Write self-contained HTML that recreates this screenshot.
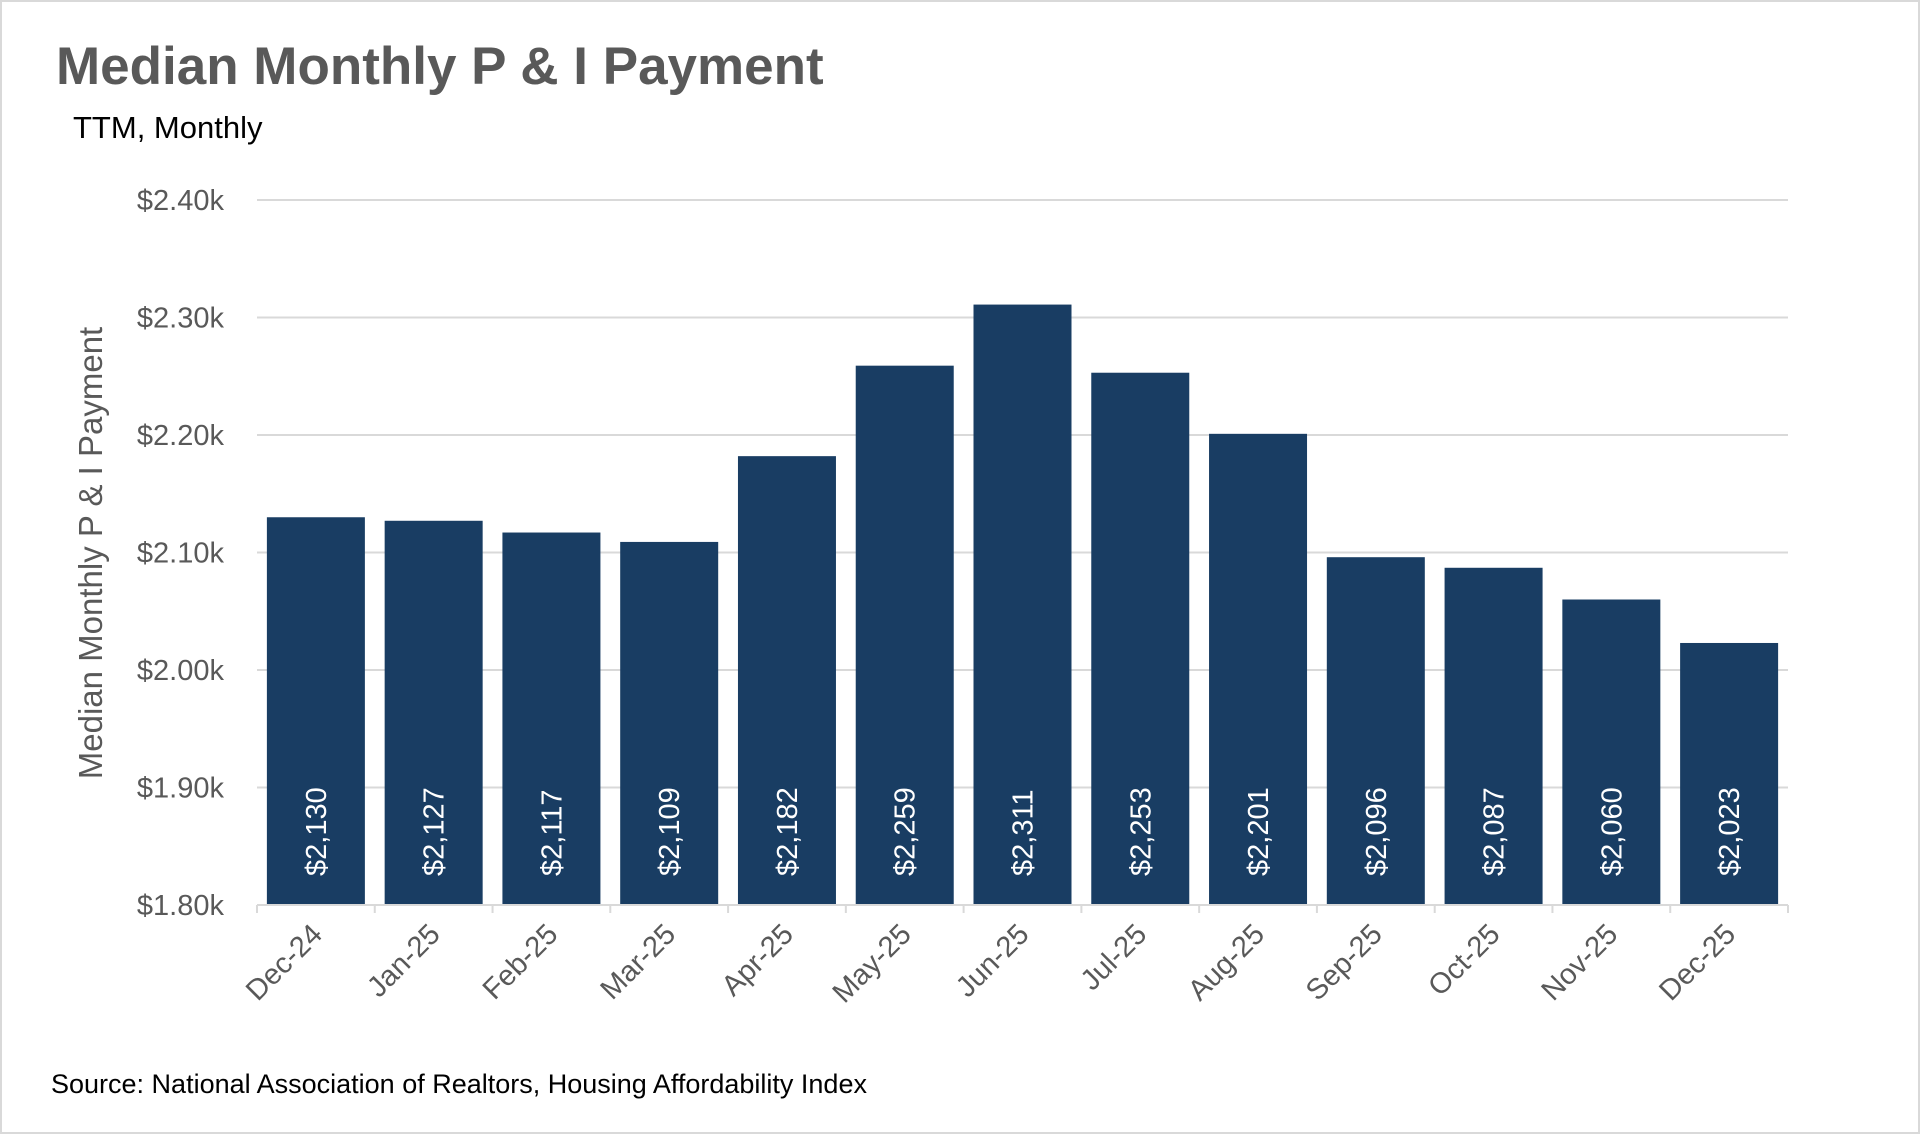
<!DOCTYPE html>
<html><head><meta charset="utf-8"><style>
html,body{margin:0;padding:0;background:#fff;}
body{width:1920px;height:1134px;overflow:hidden;font-family:"Liberation Sans",sans-serif;}
#frame{position:absolute;left:0;top:0;width:1916px;height:1130px;border:2px solid #d9d9d9;}
</style></head><body>
<div id="frame"></div>
<svg id="chart" width="1920" height="1134" style="position:absolute;left:0;top:0">
<text x="56" y="84" font-size="53" font-weight="bold" fill="#595959">Median Monthly P &amp; I Payment</text>
<text x="73" y="138" font-size="31" fill="#000">TTM, Monthly</text>
<text transform="translate(102,553) rotate(-90)" text-anchor="middle" font-size="33" fill="#595959">Median Monthly P &amp; I Payment</text>
<text x="51" y="1093" font-size="27" fill="#000">Source: National Association of Realtors, Housing Affordability Index</text>
<g id="grid"></g><g id="bars"></g><g id="axes"></g>
</svg>
<script>
const categories=["Dec-24","Jan-25","Feb-25","Mar-25","Apr-25","May-25","Jun-25","Jul-25","Aug-25","Sep-25","Oct-25","Nov-25","Dec-25"];
const values=[2130,2127,2117,2109,2182,2259,2311,2253,2201,2096,2087,2060,2023];
const yTicks=[1800,1900,2000,2100,2200,2300,2400];
const yTickLabels=["$1.80k","$1.90k","$2.00k","$2.10k","$2.20k","$2.30k","$2.40k"];
const NS="http://www.w3.org/2000/svg";
const x0=257,x1=1788,yTop=200,yBot=905,yMin=1800,yMax=2400;
const cw=(x1-x0)/categories.length,bw=98;
function y(v){return yBot-(v-yMin)/(yMax-yMin)*(yBot-yTop);}
function xc(i){return x0+cw*(i+0.5);}
function mk(t,a,p){const e=document.createElementNS(NS,t);for(const k in a)e.setAttribute(k,a[k]);p.appendChild(e);return e;}
const grid=document.getElementById('grid'),bars=document.getElementById('bars'),axes=document.getElementById('axes');
yTicks.forEach((v,i)=>{
  if(i>0){const l=mk('line',{x1:x0,x2:x1,y1:y(v),y2:y(v),stroke:'#d9d9d9','stroke-width':2},grid);
  
  }
  const t=mk('text',{x:224,y:y(v)+10,'text-anchor':'end','font-size':29,fill:'#595959'},axes);
  t.textContent=yTickLabels[i];
  
  
});
values.forEach((v,i)=>{
  const r=mk('rect',{x:xc(i)-bw/2,y:y(v),width:bw,height:yBot-y(v),fill:'#193d63'},bars);
  
  
  const t=mk('text',{transform:`translate(${xc(i)+10},876) rotate(-90)`,'font-size':29,fill:'#fff'},bars);
  t.textContent='$'+v.toLocaleString('en-US');
  
  
  const lab=mk('text',{transform:`translate(${xc(i)+8},936) rotate(-45)`,'text-anchor':'end','font-size':29,fill:'#595959'},axes);
  lab.textContent=categories[i];
  
  
});
const ax=mk('line',{x1:x0,x2:x1,y1:yBot,y2:yBot,stroke:'#d9d9d9','stroke-width':2},axes);


for(let i=0;i<=categories.length;i++){
  const tk=mk('line',{x1:x0+cw*i,x2:x0+cw*i,y1:yBot,y2:yBot+8,stroke:'#d9d9d9','stroke-width':2},axes);
  
  
}
</script>
</body></html>
